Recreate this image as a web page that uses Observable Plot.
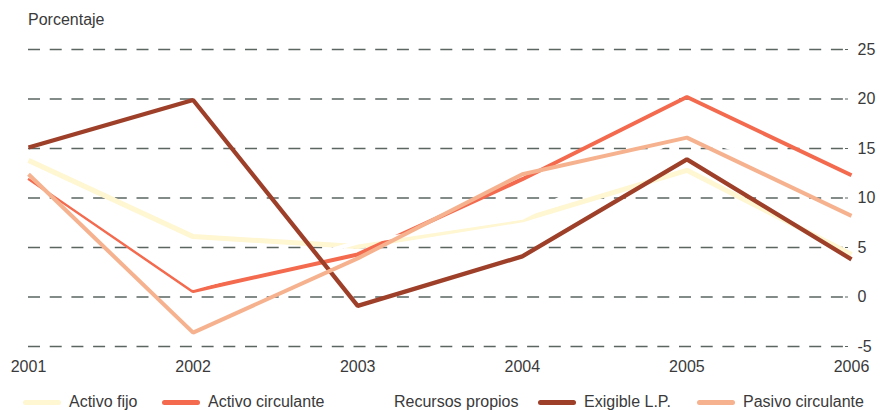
<!DOCTYPE html>
<html>
<head>
<meta charset="utf-8">
<script src="https://cdn.jsdelivr.net/npm/d3@7"></script>
<script src="https://cdn.jsdelivr.net/npm/@observablehq/plot@0.6"></script>
<style>
  html, body { margin: 0; padding: 0; background: #fff; }
  body { width: 880px; height: 410px; overflow: hidden; font-family: "Liberation Sans", Arial, sans-serif; color: #3a3a3a; }
  #title { height: 36px; box-sizing: border-box; padding: 11px 0 0 28px; font-size: 16px; line-height: 18px; }
  #chart svg { display: block; }
  #legend { position: relative; height: 20px; font-size: 16px; line-height: 18px; }
  .item { position: absolute; top: 3px; display: flex; align-items: center; white-space: nowrap; }
  .sw { width: 38px; height: 5px; border-radius: 3px; margin-right: 8px; }
</style>
</head>
<body>
<div id="title">Porcentaje</div>
<div id="chart"></div>
<div id="legend"></div>
<script>
const years = [2001, 2002, 2003, 2004, 2005, 2006];
const seriesNames = ["Activo fijo", "Activo circulante", "Recursos propios", "Exigible L.P.", "Pasivo circulante"];
const activoFijo       = [13.8, 6.1, 5.1, 7.8, 12.8, 4.3];
const activoCirculante = [12.0, 0.6, 4.3, 11.9, 20.2, 12.3];
const recursosPropios  = [12.3, 0.9, 5.5, 8.0, 16.5, 11.0];
const exigibleLP       = [15.1, 19.9, -0.9, 4.1, 13.9, 3.8];
const pasivoCirculante = [12.4, -3.6, 3.9, 12.4, 16.1, 8.2];
const yTicks = [-5, 0, 5, 10, 15, 20, 25];
const colors = ["#fff6d2", "#f36a4e", "#ffffff", "#9d3f29", "#f6b28e"];
const widths = [5, 4, 4, 4.3, 4];

const seriesValues = [activoFijo, activoCirculante, recursosPropios, exigibleLP, pasivoCirculante];
const rows = [];
seriesNames.forEach((name, i) => years.forEach((y, j) => rows.push({name, year: y, value: seriesValues[i][j]})));

const gridColor = "#5b6661";
const marks = [
  Plot.gridY(yTicks, {stroke: gridColor, strokeOpacity: 1, strokeWidth: 1.7, strokeDasharray: "12,9.7"}),
  Plot.axisX({ticks: years, tickFormat: d => String(d), tickSize: 0, tickPadding: 14}),
  Plot.axisY({anchor: "right", ticks: yTicks, tickFormat: d => String(d), tickSize: 3, tickPadding: 10, stroke: gridColor})
];
seriesNames.forEach((name, i) => {
  marks.push(Plot.line(rows.filter(r => r.name === name), {
    x: "year", y: "value", stroke: colors[i], strokeWidth: widths[i], strokeLinejoin: "miter", strokeLinecap: "butt"
  }));
});

const chart = Plot.plot({
  width: 880,
  height: 354,
  marginLeft: 28,
  marginRight: 36,
  marginTop: 13,
  marginBottom: 44,
  style: {fontSize: "16px", fontFamily: "Liberation Sans, Arial, sans-serif", color: "#3a3a3a", background: "#fff"},
  x: {domain: [2001, 2006], range: [28, 851], label: null},
  y: {domain: [-5, 25], label: null},
  marks
});
document.getElementById("chart").appendChild(chart);

const legendLeft = [23, 162, 348, 538, 697];
const legend = document.getElementById("legend");
seriesNames.forEach((name, i) => {
  const it = document.createElement("div");
  it.className = "item";
  it.style.left = legendLeft[i] + "px";
  const sw = document.createElement("span");
  sw.className = "sw";
  sw.style.background = colors[i];
  const tx = document.createElement("span");
  tx.textContent = name;
  it.appendChild(sw); it.appendChild(tx);
  legend.appendChild(it);
});
</script>
</body>
</html>
